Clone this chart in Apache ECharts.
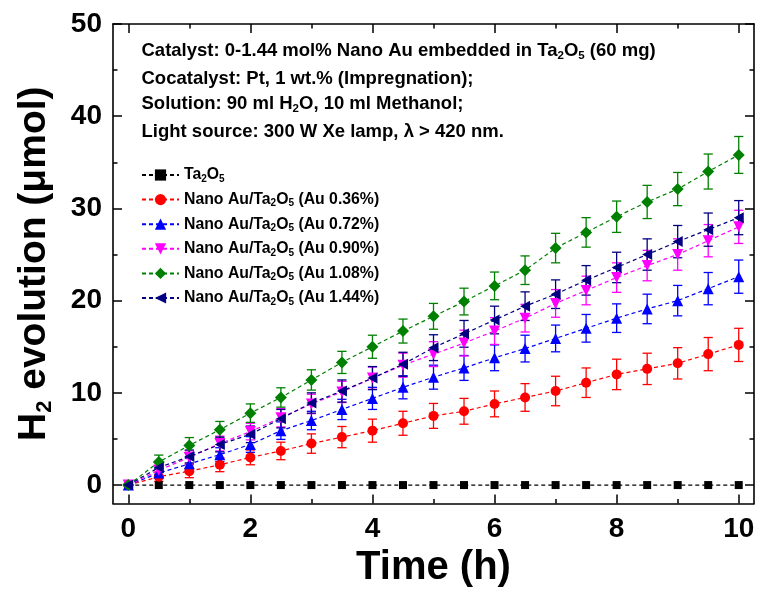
<!DOCTYPE html>
<html><head><meta charset="utf-8">
<script src="https://cdn.jsdelivr.net/npm/echarts@6/dist/echarts.min.js"></script>
<style>html,body{margin:0;padding:0;background:#fff}#c{width:759px;height:590px}</style>
</head><body><div id="c"></div>
<script>
const times = [0,0.5,1,1.5,2,2.5,3,3.5,4,4.5,5,5.5,6,6.5,7,7.5,8,8.5,9,9.5,10];
const ta2o5   = [0,0,0,0,0,0,0,0,0,0,0,0,0,0,0,0,0,0,0,0,0];
const au036   = [0,0.9,1.5,2.2,3.0,3.7,4.5,5.2,5.9,6.7,7.5,8.0,8.8,9.5,10.2,11.1,12.0,12.6,13.2,14.2,15.2];
const au072   = [0,1.3,2.3,3.3,4.4,5.9,7.0,8.2,9.4,10.6,11.7,12.7,13.8,14.8,15.9,17.0,18.1,19.1,20.0,21.3,22.6];
const au090   = [0,1.6,3.0,4.5,5.8,7.3,8.8,10.1,11.6,13.0,14.2,15.4,16.7,18.1,19.7,21.1,22.5,23.8,25.0,26.5,28.0];
const au108   = [0,2.5,4.3,6.0,7.8,9.5,11.4,13.3,15.0,16.7,18.3,19.9,21.6,23.3,25.7,27.4,29.1,30.7,32.1,34.0,35.8];
const au144   = [0,1.9,3.1,4.4,5.5,7.2,8.9,10.2,11.6,13.1,14.9,16.4,17.9,19.4,20.7,22.2,23.6,25.0,26.4,27.7,29.0];
const err036  = [0,0.5,0.7,0.75,0.8,0.95,1.05,1.15,1.25,1.3,1.35,1.4,1.4,1.5,1.6,1.6,1.65,1.7,1.7,1.8,1.8];
const err072  = [0,0.5,0.65,0.75,0.85,0.95,1.0,1.1,1.2,1.25,1.3,1.35,1.4,1.45,1.45,1.5,1.55,1.6,1.65,1.75,1.8];
const err090  = [0,0.55,0.7,0.8,0.9,1.0,1.05,1.15,1.2,1.3,1.35,1.4,1.45,1.5,1.5,1.55,1.6,1.65,1.7,1.75,1.8];
const err108  = [0,0.75,0.85,0.9,1.0,1.05,1.1,1.2,1.25,1.3,1.4,1.45,1.5,1.55,1.6,1.6,1.7,1.8,1.8,1.9,2.0];
const err144  = [0,0.55,0.7,0.8,0.9,1.0,1.1,1.2,1.25,1.3,1.4,1.45,1.5,1.55,1.55,1.6,1.65,1.7,1.75,1.8,1.85];
const xMajor = [0,2,4,6,8,10];
const xMinor = [1,3,5,7,9];
const yMajor = [0,10,20,30,40,50];
const yMinor = [5,15,25,35,45];
const seriesNames = ['Ta2O5','Au 0.36%','Au 0.72%','Au 0.90%','Au 1.08%','Au 1.44%'];
const legendLabels = [
  '{a|Ta}{s|2}{a|O}{s|5}',
  '{a|Nano Au/Ta}{s|2}{a|O}{s|5}{a| (Au 0.36%)}',
  '{a|Nano Au/Ta}{s|2}{a|O}{s|5}{a| (Au 0.72%)}',
  '{a|Nano Au/Ta}{s|2}{a|O}{s|5}{a| (Au 0.90%)}',
  '{a|Nano Au/Ta}{s|2}{a|O}{s|5}{a| (Au 1.08%)}',
  '{a|Nano Au/Ta}{s|2}{a|O}{s|5}{a| (Au 1.44%)}'
];
const noteLines = [
  '{a|Catalyst: 0-1.44 mol% Nano Au embedded in Ta}{s|2}{a|O}{s|5}{a| (60 mg)}',
  '{a|Cocatalyst: Pt, 1 wt.% (Impregnation);}',
  '{a|Solution: 90 ml H}{s|2}{a|O, 10 ml Methanol;}',
  '{a|Light source: 300 W Xe lamp, λ > 420 nm.}'
];

const FF = '"Liberation Sans", Arial, sans-serif';
const colors = ['#000000','#ff0000','#0000ff','#ff00ff','#008000','#000080'];
const symbols = ['rect','circle','triangle','path://M0,0L10,0L5,10Z','diamond','path://M0,5L10,0L10,10Z'];
const sizes = [8,10,11,11,12,[10,11]];
const values = [ta2o5,au036,au072,au090,au108,au144];
const errs = [null,err036,err072,err090,err108,err144];

const chart = echarts.init(document.getElementById('c'), null, {renderer:'canvas'});
const gridPos = {left:113, top:24, right:5, bottom:86.5, outerBoundsMode:'none', containLabel:false};
const axLine = {show:true, onZero:false, lineStyle:{color:'#000', width:1.6}};
const noLine = {show:false, onZero:false};
function xAx(pos, grid, ticks, len, labels, extra) {
  return Object.assign({type:'value', gridIndex:grid, position:pos, min:-0.25, max:10.25,
    axisLine: grid===0 ? axLine : noLine,
    axisTick:{show:true, inside:true, length:len, customValues:ticks, lineStyle:{color:'#000', width:1.5}},
    axisLabel: labels ? {show:true, customValues:ticks, color:'#000', fontSize:28, fontWeight:'bold', fontFamily:FF, margin:12} : {show:false},
    splitLine:{show:false}}, extra||{});
}
function yAx(pos, grid, ticks, len, labels, extra) {
  return Object.assign({type:'value', gridIndex:grid, position:pos, min:-2, max:50,
    axisLine: grid===0 ? axLine : noLine,
    axisTick:{show:true, inside:true, length:len, customValues:ticks, lineStyle:{color:'#000', width:1.5}},
    axisLabel: labels ? {show:true, customValues:ticks, color:'#000', fontSize:28, fontWeight:'bold', fontFamily:FF, margin:11} : {show:false},
    splitLine:{show:false}}, extra||{});
}

const series = [];
values.forEach((v, k) => {
  if (errs[k]) {
    const col = colors[k];
    series.push({
      type:'custom', xAxisIndex:0, yAxisIndex:0, z:2, silent:true,
      data: times.map((t,i)=>[t, v[i]-errs[k][i], v[i]+errs[k][i]]).filter((d,i)=>errs[k][i]>0),
      encode:{x:0, y:[1,2]},
      renderItem: function(params, api) {
        const x = api.value(0);
        const p1 = api.coord([x, api.value(1)]);
        const p2 = api.coord([x, api.value(2)]);
        const w = 4.6;
        const st = {stroke: col, lineWidth: 1.3};
        return {type:'group', children:[
          {type:'line', shape:{x1:p1[0], y1:p1[1], x2:p2[0], y2:p2[1]}, style:st},
          {type:'line', shape:{x1:p1[0]-w, y1:p1[1], x2:p1[0]+w, y2:p1[1]}, style:st},
          {type:'line', shape:{x1:p2[0]-w, y1:p2[1], x2:p2[0]+w, y2:p2[1]}, style:st}
        ]};
      }
    });
  }
});
values.forEach((v, k) => {
  series.push({
    name: seriesNames[k], type:'line', xAxisIndex:0, yAxisIndex:0, z:3 + k,
    data: times.map((t,i)=>[t, v[i]]),
    symbol: symbols[k], symbolSize: sizes[k], showSymbol:true,
    itemStyle:{color: colors[k]},
    lineStyle:{color: colors[k], width:1.2, type:[4,3]},
    animation:false, emphasis:{disabled:true}
  });
});

const richMain = (fs, lh, sfs, slh) => ({
  a:{fontSize:fs, fontWeight:'bold', fontFamily:FF, color:'#000', lineHeight:lh},
  s:{fontSize:sfs, fontWeight:'bold', fontFamily:FF, color:'#000', lineHeight:slh, verticalAlign:'bottom'}
});

const noteY = [51, 79, 104, 132];
const graphics = noteLines.map((txt, i) => ({
  type:'text', x:141.5, y:noteY[i], z:50,
  style:{text: txt, rich: richMain(18.5, 22, 11.5, 9), verticalAlign:'middle', align:'left', fill:'#000', font:'bold 18.5px ' + FF}
}));

chart.setOption({
  animation:false,
  backgroundColor:'#fff',
  grid:[Object.assign({}, gridPos), Object.assign({}, gridPos)],
  xAxis:[
    xAx('bottom',0,xMajor,9,true,{name:'Time (h)', nameLocation:'middle', nameGap:39.5,
      nameTextStyle:{fontSize:40, fontWeight:'bold', fontFamily:FF, color:'#000', lineHeight:40}}),
    xAx('top',0,xMajor,9,false),
    xAx('bottom',1,xMinor,4.5,false),
    xAx('top',1,xMinor,4.5,false)
  ],
  yAxis:[
    yAx('left',0,yMajor,9,true,{name:'{a|H}{s|2}{a| evolution (μmol)}', nameLocation:'middle', nameGap:57,
      nameTextStyle:{fontSize:39, fontWeight:'bold', fontFamily:FF, color:'#000', rich: richMain(39, 44, 22, 16)}}),
    yAx('right',0,yMajor,9,false),
    yAx('left',1,yMinor,4.5,false),
    yAx('right',1,yMinor,4.5,false)
  ],
  legend:{
    orient:'vertical', left:141, top:167, padding:0, itemWidth:37, itemHeight:14, itemGap:7.6,
    data: seriesNames, selectedMode:false,
    formatter: function(name){ return legendLabels[seriesNames.indexOf(name)]; },
    textStyle:{fontSize:15.8, fontWeight:'bold', fontFamily:FF, color:'#000', rich: richMain(15.8, 18, 10, 6.5)}
  },
  graphic: graphics,
  series: series
});
</script></body></html>
